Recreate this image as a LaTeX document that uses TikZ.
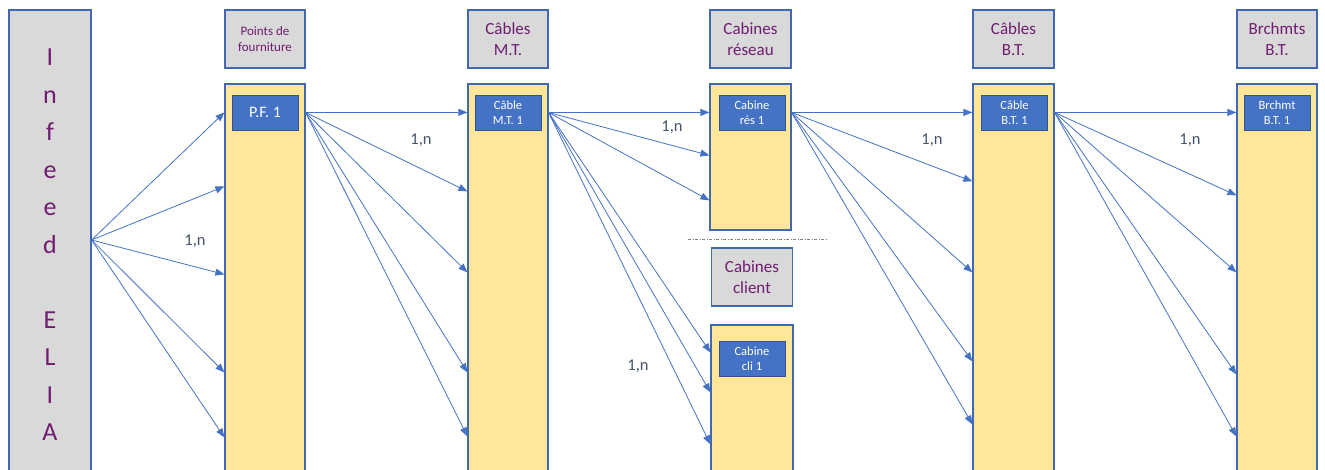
\documentclass[tikz,border=0pt]{standalone}
\usepackage{fontspec}
\setmainfont{Carlito}
\usetikzlibrary{arrows.meta,calc}
\definecolor{hdrfill}{RGB}{217,217,217}
\definecolor{edgeblue}{RGB}{65,105,175}
\definecolor{colfill}{RGB}{255,230,153}
\definecolor{innfill}{RGB}{68,114,196}
\definecolor{innedge}{RGB}{47,82,143}
\definecolor{ttl}{RGB}{112,28,112}
\definecolor{lbl}{RGB}{68,84,106}
\definecolor{arr}{RGB}{68,114,196}
\begin{document}
\begin{tikzpicture}[x=1pt,y=-1pt,
  hdr/.style={draw=edgeblue, line width=1.2pt, fill=hdrfill, text=ttl, align=center, inner sep=0pt,
    minimum width=80pt, minimum height=58pt, font=\fontsize{17}{21}\selectfont},
  colbox/.style={draw=edgeblue, line width=1.2pt, fill=colfill, inner sep=0pt, minimum width=80pt},
  inbox/.style={draw=innedge, line width=1pt, fill=innfill, text=white, align=center, inner sep=0pt,
    minimum width=66pt, minimum height=35pt, font=\fontsize{12.5}{15}\selectfont},
  link/.style={draw=arr, line width=0.8pt, -{Triangle[length=9pt,width=7pt]}},
  card/.style={text=lbl, font=\fontsize{16.5}{19}\selectfont},
  sep/.style={draw=gray, line width=0.8pt, dash pattern=on 3pt off 1.5pt on 1pt off 1.5pt}
]
\useasboundingbox (0,0) rectangle (1325,469);
\clip (0,0) rectangle (1325,469);

% Infeed
\node[hdr, minimum width=82pt, minimum height=470pt, font=\fontsize{26}{37.5}\selectfont] (infeed) at (50,245)
  {I\\n\\f\\e\\e\\d\\[37.5pt]E\\L\\I\\A};

% headers
\node[hdr, font=\fontsize{13}{16}\selectfont] (h1) at (265,39) {Points de\\fourniture};
\node[hdr] (h2) at (508,39) {Câbles\\M.T.};
\node[hdr, minimum width=81pt] (h3) at (750.5,39) {Cabines\\réseau};
\node[hdr, minimum width=81pt] (h3b) at (752,277) {Cabines\\client};
\node[hdr, minimum width=81pt] (h4) at (1013.5,39) {Câbles\\B.T.};
\node[hdr] (h5) at (1277,39) {Brchmts\\B.T.};

% columns
\node[colbox, minimum height=396pt] (c1) at (265,282) {};
\node[colbox, minimum height=396pt] (c2) at (508,282) {};
\node[colbox, minimum width=81pt, minimum height=146pt] (c3) at (750.5,157) {};
\node[colbox, minimum width=82pt, minimum height=155pt] (c3b) at (752,402.5) {};
\node[colbox, minimum width=81pt, minimum height=396pt] (c4) at (1013.5,282) {};
\node[colbox, minimum height=396pt] (c5) at (1277,282) {};

% inner boxes
\node[inbox, font=\fontsize{16}{19}\selectfont] (pf1) at (265,112.5) {P.F. 1};
\node[inbox] (mt1) at (508,112.5) {Câble\\M.T. 1};
\node[inbox] (res1) at (752,112.5) {Cabine\\rés 1};
\node[inbox] (cli1) at (752,359) {Cabine\\cli 1};
\node[inbox] (bt1) at (1014.5,112.5) {Câble\\B.T. 1};
\node[inbox] (br1) at (1277,112.5) {Brchmt\\B.T. 1};

% separator
\coordinate (sepA) at (688,239);
\coordinate (sepB) at (826,239);
\draw[sep] (sepA) -- (sepB);

% connectors
\coordinate (src) at ([yshift=5pt]infeed.east);
\foreach \d in {29,103,191,289,354}
  \draw[link] (src) -- ([yshift=-\d pt]c1.north west);
\foreach \d in {29,108,189,289,353}
  \draw[link] (c1.east |- pf1.center) -- ([yshift=-\d pt]c2.north west);
\foreach \d in {29,72,117}
  \draw[link] (c2.east |- mt1.center) -- ([yshift=-\d pt]c3.north west);
\foreach \d in {28,68,120}
  \draw[link] (c2.east |- mt1.center) -- ([yshift=-\d pt]c3b.north west);
\foreach \d in {29,98,189,278,341}
  \draw[link] (c3.east |- res1.center) -- ([yshift=-\d pt]c4.north west);
\foreach \d in {29,112,189,291,353}
  \draw[link] (c4.east |- bt1.center) -- ([yshift=-\d pt]c5.north west);

% cardinalities
\node[card] (n1) at (195,241) {1,n};
\node[card] (n2) at (421,140) {1,n};
\node[card] (n3) at (672,127) {1,n};
\node[card] (n4) at (638,366) {1,n};
\node[card] (n5) at (932,140) {1,n};
\node[card] (n6) at (1190,140) {1,n};
\end{tikzpicture}
\end{document}
